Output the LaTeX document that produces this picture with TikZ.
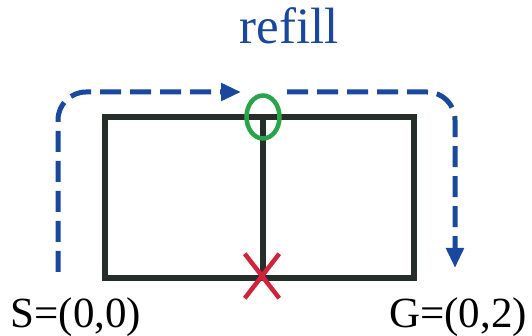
\documentclass[tikz,border=0pt]{standalone}
\usepackage{fontspec}
\setmainfont{Liberation Serif}
\usetikzlibrary{arrows.meta, shapes.geometric, shapes.misc}
\definecolor{RefillBlue}{RGB}{25, 72, 158}
\definecolor{OpenGreen}{RGB}{40, 165, 75}
\definecolor{BlockRed}{RGB}{210, 35, 60}
\definecolor{WallGray}{RGB}{38, 46, 42}

\begin{document}
\begin{tikzpicture}[x=1pt, y=-1pt,
    wall/.style={line width=5.5pt, WallGray},
    refillpath/.style={line width=5pt, RefillBlue, dash pattern=on 21pt off 9pt,
      rounded corners=28pt, -{Triangle[length=20pt, width=17pt]}},
    openmark/.style={ellipse, draw=OpenGreen, line width=4.5pt,
      minimum width=33pt, minimum height=43pt, inner sep=0pt},
    blockmark/.style={cross out, draw=BlockRed, line width=4.5pt,
      minimum width=30pt, minimum height=40pt, inner sep=0pt},
    coordlabel/.style={anchor=base, inner sep=0pt, font=\fontsize{43}{43}\selectfont}]
  \useasboundingbox (0,0) rectangle (532,336);

  % Maze walls
  \coordinate (sw) at (105,278);
  \coordinate (ne) at (414,117);
  \coordinate (mtop) at (263,117);
  \coordinate (mbot) at (263,278);
  \draw[wall] (sw) rectangle (ne);
  \draw[wall] (mtop) -- (mbot);

  % Open and blocked marks
  \node[openmark] (open) at (263,117) {};
  \node[blockmark] (block) at (262,276) {};

  % Refill route
  \coordinate (routestart) at (58,272);
  \coordinate (routemid) at (241,92);
  \coordinate (routeback) at (287,92);
  \coordinate (routeend) at (455,268);
  \draw[refillpath] (routestart) |- (routemid);
  \draw[refillpath] (routeback) -| (routeend);

  % Labels
  \node[anchor=base, inner sep=0pt, RefillBlue, font=\fontsize{51}{51}\selectfont] (refill) at (289,44) {refill};
  \node[coordlabel] (start) at (76,327) {S=(0,0)};
  \node[coordlabel] (goal) at (458,327) {G=(0,2)};
\end{tikzpicture}
\end{document}
